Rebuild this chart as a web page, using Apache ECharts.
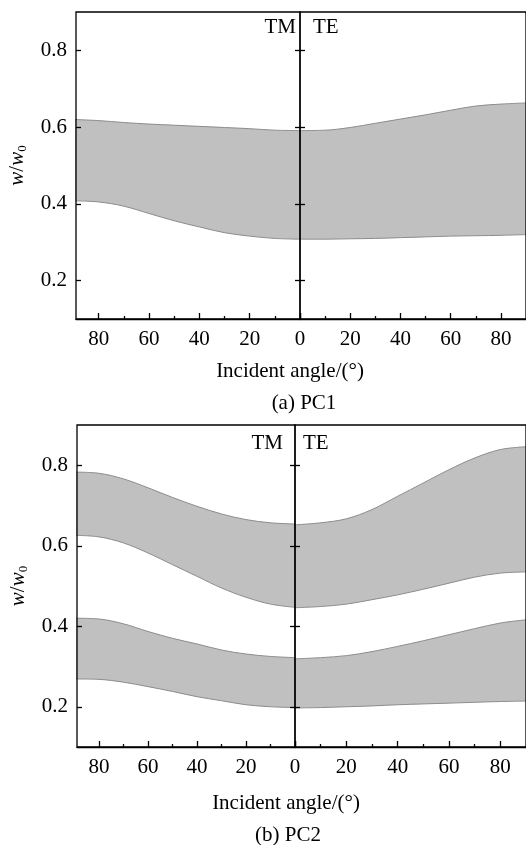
<!DOCTYPE html>
<html>
<head>
<meta charset="utf-8">
<script src="https://cdn.jsdelivr.net/npm/echarts@6/dist/echarts.min.js"></script>
<style>html,body{margin:0;padding:0;background:#fff}#c{width:526px;height:845px}</style>
</head>
<body>
<div id="c"></div>
<script>
// Incident angles (degrees)
const angles = [0, 10, 20, 30, 40, 50, 60, 70, 80, 90];
// y tick labels
const yTicks = [0.2, 0.4, 0.6, 0.8];
const xMajor = [0, 20, 40, 60, 80];
const xMinor = [10, 30, 50, 70];

// (a) PC1 band edges
const a_TM_upper = [0.591, 0.592, 0.596, 0.599, 0.602, 0.605, 0.608, 0.612, 0.617, 0.620];
const a_TM_lower = [0.308, 0.310, 0.316, 0.325, 0.340, 0.356, 0.375, 0.394, 0.405, 0.408];
const a_TE_upper = [0.591, 0.592, 0.599, 0.610, 0.621, 0.632, 0.644, 0.655, 0.660, 0.663];
const a_TE_lower = [0.308, 0.308, 0.309, 0.310, 0.312, 0.314, 0.316, 0.317, 0.318, 0.320];

// (b) PC2 band edges: band 1 (upper) and band 2 (lower)
const b_TM_b1_upper = [0.654, 0.657, 0.665, 0.679, 0.698, 0.720, 0.744, 0.766, 0.780, 0.783];
const b_TM_b1_lower = [0.447, 0.455, 0.472, 0.495, 0.524, 0.553, 0.582, 0.607, 0.622, 0.626];
const b_TM_b2_upper = [0.322, 0.325, 0.331, 0.341, 0.356, 0.370, 0.387, 0.406, 0.418, 0.420];
const b_TM_b2_lower = [0.198, 0.200, 0.205, 0.215, 0.225, 0.238, 0.250, 0.261, 0.268, 0.269];
const b_TE_b1_upper = [0.652, 0.657, 0.667, 0.690, 0.723, 0.756, 0.789, 0.818, 0.839, 0.846];
const b_TE_b1_lower = [0.446, 0.449, 0.455, 0.466, 0.478, 0.492, 0.507, 0.522, 0.532, 0.535];
const b_TE_b2_upper = [0.319, 0.322, 0.327, 0.337, 0.350, 0.364, 0.379, 0.394, 0.408, 0.416];
const b_TE_b2_lower = [0.197, 0.198, 0.200, 0.202, 0.205, 0.207, 0.209, 0.211, 0.213, 0.214];

const FONT = '"Liberation Serif", "Times New Roman", serif';
const FILL = '#c0c0c0';
const EDGE = '#8c8c8c';
const LW = 1.3;

const grids = [
  {left: 76, top: 12, width: 224, height: 307},   // a TM
  {left: 300, top: 12, width: 229, height: 307},  // a TE
  {left: 77, top: 425, width: 218, height: 322},  // b TM
  {left: 295, top: 425, width: 232, height: 322}  // b TE
].map(g => Object.assign(g, {show: true, z: 6, borderColor: '#000', borderWidth: LW, backgroundColor: 'transparent'}));

const xAxes = [];
const yAxes = [];
function addX(gi, inverse, max, labels) {
  xAxes.push({
    type: 'value', gridIndex: gi, position: 'bottom', min: 0, max: max, inverse: inverse, z: 6,
    axisLine: {show: true, onZero: false, lineStyle: {color: '#000', width: LW}},
    axisTick: {show: true, inside: true, length: 6, customValues: xMajor, lineStyle: {color: '#000', width: LW}},
    axisLabel: {show: labels.length > 0, customValues: labels, margin: 10, color: '#000', fontFamily: FONT, fontSize: 21},
    splitLine: {show: false}
  });
  xAxes.push({
    type: 'value', gridIndex: gi, position: 'bottom', min: 0, max: max, inverse: inverse, z: 6,
    axisLine: {show: false, onZero: false},
    axisTick: {show: true, inside: true, length: 3, customValues: xMinor, lineStyle: {color: '#000', width: LW}},
    axisLabel: {show: false},
    splitLine: {show: false}
  });
}
const yName = '{i|w}{n|/}{i|w}{s|0}';
const yRich = {
  i: {fontStyle: 'italic', fontFamily: FONT, fontSize: 21, color: '#000', lineHeight: 24, verticalAlign: 'middle'},
  n: {fontFamily: FONT, fontSize: 21, color: '#000', lineHeight: 24, verticalAlign: 'middle'},
  s: {fontFamily: FONT, fontSize: 13, color: '#000', lineHeight: 14, verticalAlign: 'bottom'}
};
function addY(gi, position, withLabels) {
  const ax = {
    type: 'value', gridIndex: gi, min: 0.1, max: 0.9, position: position, z: 6,
    axisLine: {show: false, onZero: false},
    axisTick: {show: true, inside: true, length: 5, customValues: yTicks, lineStyle: {color: '#000', width: LW}},
    axisLabel: {show: withLabels, customValues: yTicks, margin: 9, color: '#000', fontFamily: FONT, fontSize: 21,
      formatter: v => v.toFixed(1)},
    splitLine: {show: false}
  };
  if (withLabels) {
    ax.name = yName;
    ax.nameLocation = 'middle';
    ax.nameGap = 47;
    ax.nameRotate = 90;
    ax.nameTextStyle = {rich: yRich};
  }
  yAxes.push(ax);
  return yAxes.length - 1;
}

// x axes: indices 0..7 (major, minor per grid)
addX(0, true, 89, [20, 40, 60, 80]);
addX(1, false, 90, [0, 20, 40, 60, 80]);
addX(2, true, 89, [0, 20, 40, 60, 80]);
addX(3, false, 90, [20, 40, 60, 80]);

const yA_TM = addY(0, 'left', true);
addY(0, 'right', false);
const yA_TE = addY(1, 'left', false);
const yB_TM = addY(2, 'left', true);
addY(2, 'right', false);
const yB_TE = addY(3, 'left', false);

const series = [];
let stackId = 0;
// data stored as [value, angle] so that the stacked dimension is the y value
function band(xi, yi, lower, upper) {
  const st = 'band' + (stackId++);
  series.push({
    type: 'line', xAxisIndex: xi, yAxisIndex: yi, stack: st, smooth: 0.35, symbol: 'none',
    encode: {x: 1, y: 0},
    lineStyle: {color: EDGE, width: 1}, silent: true, z: 3,
    data: angles.map((a, k) => [lower[k], a])
  });
  series.push({
    type: 'line', xAxisIndex: xi, yAxisIndex: yi, stack: st, smooth: 0.35, symbol: 'none',
    encode: {x: 1, y: 0},
    lineStyle: {color: EDGE, width: 1}, areaStyle: {color: FILL, opacity: 1}, silent: true, z: 2,
    data: angles.map((a, k) => [upper[k] - lower[k], a])
  });
}
band(0, yA_TM, a_TM_lower, a_TM_upper);
band(2, yA_TE, a_TE_lower, a_TE_upper);
band(4, yB_TM, b_TM_b1_lower, b_TM_b1_upper);
band(4, yB_TM, b_TM_b2_lower, b_TM_b2_upper);
band(6, yB_TE, b_TE_b1_lower, b_TE_b1_upper);
band(6, yB_TE, b_TE_b2_lower, b_TE_b2_upper);

function txt(text, x, y, align) {
  return {type: 'text', x: x, y: y, z: 10, style: {text: text, font: '21px ' + FONT, fill: '#000',
    textAlign: align || 'center', textVerticalAlign: 'middle'}};
}

const option = {
  animation: false,
  backgroundColor: '#fff',
  grid: grids,
  xAxis: xAxes,
  yAxis: yAxes,
  series: series,
  graphic: [
    txt('TM', 296, 27, 'right'),
    txt('TE', 313, 27, 'left'),
    txt('Incident angle/(°)', 290, 371),
    txt('(a) PC1', 304, 403),
    txt('TM', 283, 443, 'right'),
    txt('TE', 303, 443, 'left'),
    txt('Incident angle/(°)', 286, 803),
    txt('(b) PC2', 288, 835)
  ]
};
const chart = echarts.init(document.getElementById('c'), null, {renderer: 'canvas'});
chart.setOption(option);
</script>
</body>
</html>
